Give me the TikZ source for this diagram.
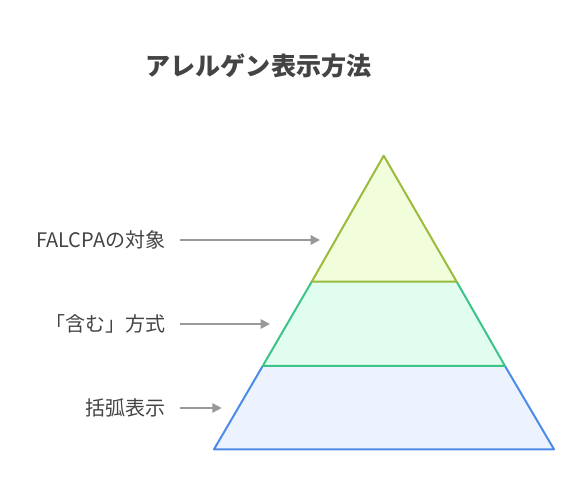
\documentclass[tikz,border=0pt]{standalone}
\usepackage{fontspec}
\setmainfont{Noto Sans CJK JP}
\usetikzlibrary{arrows.meta}
\definecolor{txt}{HTML}{444444}
\definecolor{arr}{HTML}{999999}
\definecolor{f1}{HTML}{F2FDDC}
\definecolor{s1}{HTML}{99BC3C}
\definecolor{f2}{HTML}{E1FDF0}
\definecolor{s2}{HTML}{3CC488}
\definecolor{f3}{HTML}{ECF3FE}
\definecolor{s3}{HTML}{4C8BE8}
\begin{document}
\begin{tikzpicture}[x=0.75pt,y=-0.75pt,
  lab/.style={anchor=east,text=txt,font=\fontsize{15pt}{18pt}\selectfont,inner sep=0pt},
  conn/.style={draw=arr,line width=1.4pt,-{Triangle[length=7pt,width=7pt]}},
  band/.style={line width=1.5pt,line join=round}]
\useasboundingbox (0,0) rectangle (578,498);
\node[text=txt,font=\fontsize{18.8pt}{22pt}\selectfont\bfseries,inner sep=0pt] (title) at (258.5,66) {アレルゲン表示方法};
% pyramid
\coordinate (apex) at (383.7,155.7);
\coordinate (t1l) at (311.7,281.7); \coordinate (t1r) at (456.7,281.7);
\coordinate (t2l) at (262.7,366); \coordinate (t2r) at (505,366);
\coordinate (bl) at (214,449.3); \coordinate (br) at (554,449.3);
\path[fill=f3] (t2l) -- (bl) -- (br) -- (t2r) -- cycle;
\draw[band,draw=s3] (t2l) -- (bl) -- (br) -- (t2r);
\path[fill=f2] (t1l) -- (t2l) -- (t2r) -- (t1r) -- cycle;
\draw[band,draw=s2] (t1l) -- (t2l) -- (t2r) -- (t1r);
\path[fill=f1] (apex) -- (t1l) -- (t1r) -- cycle;
\draw[band,draw=s1] (t1l) -- (apex) -- (t1r) -- cycle;
% labels
\node[lab] (l1) at (165.7,240) {FALCPAの対象};
\node[lab] (l2) at (165.7,324) {「含む」方式};
\node[lab] (l3) at (165.7,408) {括弧表示};
\coordinate (a1) at (320,240);
\coordinate (a2) at (270,324);
\coordinate (a3) at (221.7,408);
\draw[conn] ([xshift=10.5pt]l1.east) -- (a1);
\draw[conn] ([xshift=10.5pt]l2.east) -- (a2);
\draw[conn] ([xshift=10.5pt]l3.east) -- (a3);
\end{tikzpicture}
\end{document}
